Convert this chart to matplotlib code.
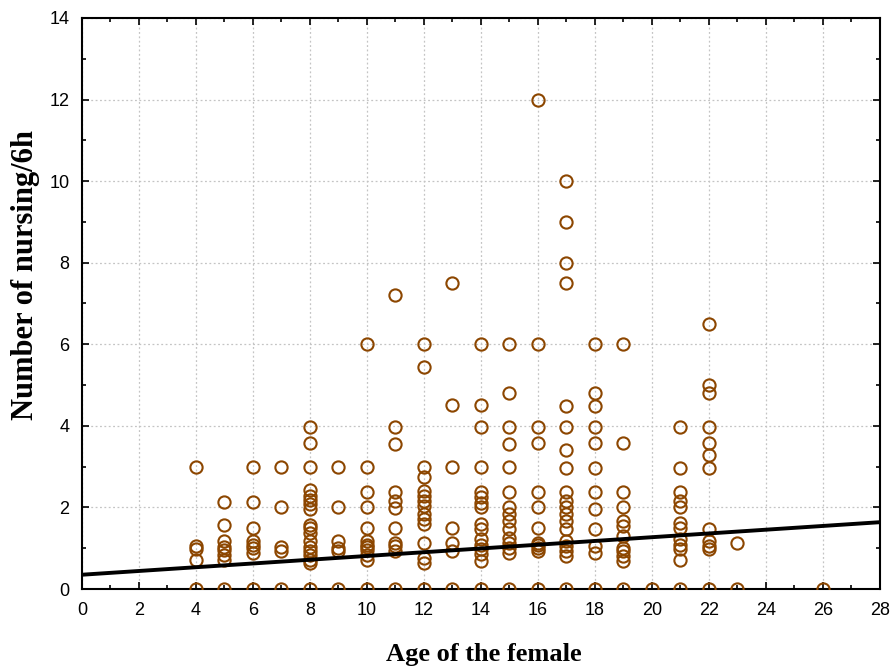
import numpy as np
import matplotlib
matplotlib.use("Agg")
import matplotlib.pyplot as plt
from matplotlib.ticker import MultipleLocator

# age of the female (years) and nursing bouts per 6h observed at that age
ages = [4, 5, 6, 7, 8, 9, 10, 11, 12, 13, 14, 15, 16, 17, 18, 19, 20, 21, 22, 23, 26]
nursing = [
    [0, 0.7, 0.98, 1.05, 3],
    [0, 0.71, 0.83, 0.96, 1.04, 1.17, 1.58, 2.13],
    [0, 0.88, 1.0, 1.08, 1.17, 1.5, 2.13, 3],
    [0, 0.92, 1.04, 2.0, 3],
    [0, 0.63, 0.71, 0.83, 0.92, 1.04, 1.17, 1.38, 1.5, 1.58, 1.96, 2.08, 2.18,
     2.29, 2.42, 3, 3.58, 3.98],
    [0, 0.92, 1.0, 1.17, 2.0, 3],
    [0, 0.7, 0.83, 0.96, 1.04, 1.08, 1.17, 1.5, 2.0, 2.38, 3, 6],
    [0, 0.93, 1.05, 1.13, 1.5, 1.98, 2.16, 2.38, 3.55, 3.96, 7.2],
    [0, 0.64, 0.76, 1.13, 1.59, 1.71, 1.84, 2.04, 2.16, 2.29, 2.41, 2.74, 3.0,
     5.44, 6],
    [0, 0.94, 1.13, 1.5, 3.0, 4.5, 7.5],
    [0, 0.68, 0.85, 0.97, 1.09, 1.22, 1.46, 1.59, 2.0, 2.12, 2.25, 2.37, 3.0,
     3.96, 4.5, 6],
    [0, 0.89, 1.01, 1.13, 1.26, 1.46, 1.67, 1.84, 2.0, 2.37, 3.0, 3.55, 3.96,
     4.8, 6],
    [0, 0.93, 1.01, 1.09, 1.13, 1.49, 2.0, 2.37, 3.57, 3.98, 6, 12],
    [0, 0.8, 0.93, 1.05, 1.18, 1.46, 1.67, 1.83, 2.0, 2.16, 2.37, 2.97, 3.4,
     3.98, 4.49, 7.5, 8, 9, 10],
    [0, 0.89, 1.05, 1.46, 1.96, 2.37, 2.97, 3.57, 3.98, 4.49, 4.8, 6],
    [0, 0.68, 0.8, 0.93, 1.01, 1.3, 1.55, 1.67, 2.0, 2.37, 3.57, 6],
    [0],
    [0, 0.72, 0.97, 1.09, 1.22, 1.5, 1.63, 2.0, 2.16, 2.37, 2.97, 3.98],
    [0, 0.97, 1.05, 1.18, 1.46, 2.97, 3.28, 3.57, 3.98, 4.8, 5.0, 6.5],
    [0, 1.13],
    [0],
]

# fitted line
fit_intercept = 0.35
fit_slope = 0.046

x = np.concatenate([[a] * len(v) for a, v in zip(ages, nursing)])
y = np.concatenate(nursing)

fig = plt.figure(figsize=(8.94, 6.71), dpi=100)
ax = fig.add_axes([0.0917, 0.1222, 0.8926, 0.851])

ax.plot(x, y, 'o', mfc='none', mec='#8c4600', ms=8.8, mew=1.5, zorder=3)

xl = np.array([0, 28])
ax.plot(xl, fit_intercept + fit_slope * xl, color='black', lw=2.8, zorder=4)

ax.set_xlim(0, 28)
ax.set_ylim(0, 14)
ax.xaxis.set_major_locator(MultipleLocator(2))
ax.xaxis.set_minor_locator(MultipleLocator(1))
ax.yaxis.set_major_locator(MultipleLocator(2))
ax.yaxis.set_minor_locator(MultipleLocator(1))
ax.tick_params(which='both', direction='in', top=True, right=True,
               width=1.2, labelsize=13)
ax.tick_params(which='major', length=5)
ax.tick_params(axis='y', which='major', pad=9)
ax.tick_params(axis='x', which='major', pad=9)
ax.tick_params(which='minor', length=3)
for lab in ax.get_xticklabels() + ax.get_yticklabels():
    lab.set_family('Liberation Sans')
ax.grid(which='major', color='#c4c4c4', ls=(0, (1.5, 2)), lw=0.9)
ax.set_axisbelow(True)
for s in ax.spines.values():
    s.set_linewidth(1.5)

fig.text(484 / 894, 1 - 655 / 671, 'Age of the female', family='Liberation Serif',
         weight='bold', fontsize=19, ha='center', va='center')
fig.text(26 / 894, 1 - 275 / 671, 'Number of nursing/6h', family='Liberation Serif',
         weight='bold', fontsize=22, rotation=90, ha='center', va='center')

fig.savefig('out.png', dpi=100)
